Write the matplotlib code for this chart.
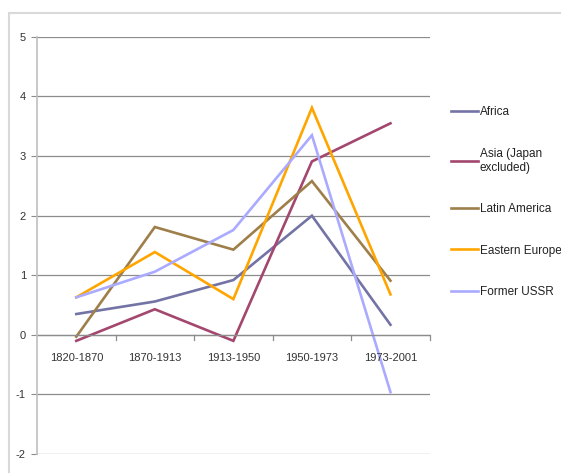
import matplotlib
matplotlib.use("Agg")
import matplotlib.pyplot as plt
from matplotlib.patches import Rectangle
import numpy as np

plt.rcParams['font.family'] = ['Liberation Sans', 'DejaVu Sans']
plt.rcParams['axes.unicode_minus'] = False

# periods on the x axis
periods = ['1820-1870', '1870-1913', '1913-1950', '1950-1973', '1973-2001']

# growth rates per region
africa = [0.35, 0.56, 0.92, 2.00, 0.17]
asia = [-0.10, 0.43, -0.10, 2.91, 3.55]
latin_america = [-0.03, 1.81, 1.43, 2.58, 0.91]
eastern_europe = [0.63, 1.39, 0.60, 3.81, 0.68]
former_ussr = [0.63, 1.06, 1.76, 3.35, -0.96]

names = ['Africa', 'Asia (Japan\nexcluded)', 'Latin America', 'Eastern Europe', 'Former USSR']
colors = ['#7373A6', '#A3476F', '#9E7F4A', '#FFA500', '#AAAAFF']

fig = plt.figure(figsize=(5.61, 4.73), dpi=100)
ax = fig.add_axes([0.066, 0.040, 0.700, 0.882])

# outer chart border
fig.patches.append(Rectangle((9 / 561, -0.1), 1.2, 1 - 13 / 473 + 0.1, transform=fig.transFigure,
                             fill=False, edgecolor='#D9D9D9', lw=1.5))

x_pos = np.arange(len(periods))
for vals, name, c in zip([africa, asia, latin_america, eastern_europe, former_ussr], names, colors):
    ax.plot(x_pos, vals, color=c, lw=1.9, label=name, solid_joinstyle='miter')

ax.set_xlim(-0.5, 4.5)
ax.set_ylim(-2, 5)
ax.set_yticks(range(-2, 6))
ax.yaxis.grid(True, color='#8C8C8C', lw=0.9)
ax.set_axisbelow(True)
for s in ['top', 'right', 'bottom']:
    ax.spines[s].set_visible(False)
ax.spines['left'].set_color('#BFBFBF')
ax.spines['left'].set_linewidth(1.2)
ax.tick_params(axis='y', length=4, color='#8C8C8C', labelsize=8, labelcolor='#333333', pad=4)

# category axis drawn at y=0 with ticks at the boundaries
ax.set_xticks([])
ax.axhline(0, color='#8C8C8C', lw=0.9)
for b in np.arange(0.5, 5.0, 1.0):
    ax.plot([b, b], [0, -0.08], color='#8C8C8C', lw=0.9, clip_on=False)
for i, p in enumerate(periods):
    ax.text(i, -0.39, p, ha='center', va='center', fontsize=8, color='#333333')

leg = ax.legend(loc='upper left', bbox_to_anchor=(1.043, 0.845), frameon=False, fontsize=8.5,
                handlelength=2.3, handletextpad=0.1, labelspacing=2.5, borderaxespad=0)
for t in leg.get_texts():
    t.set_color('#222222')

fig.savefig('out.png', dpi=100)
